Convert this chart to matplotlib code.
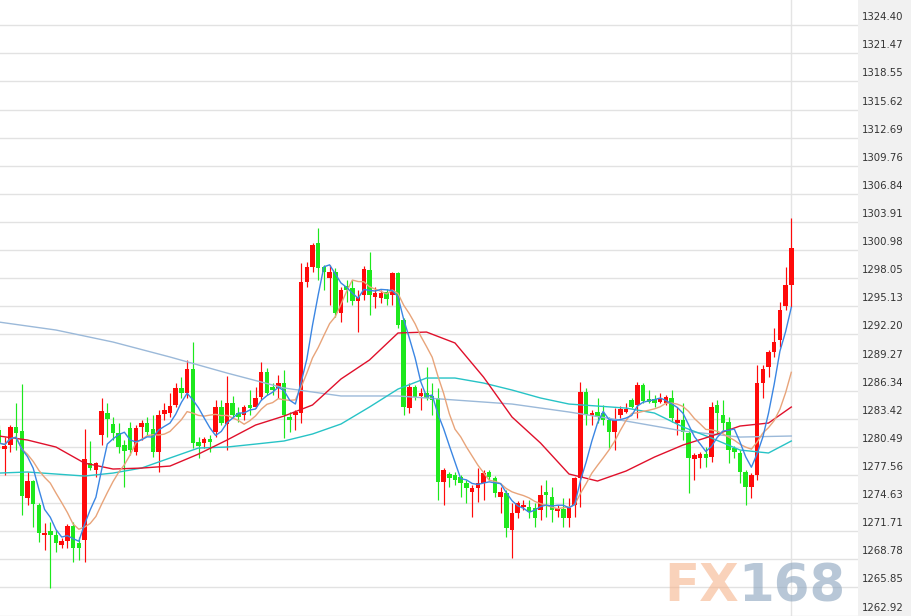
import matplotlib
matplotlib.use("Agg")
import matplotlib.pyplot as plt
import matplotlib.transforms as mtrans
import numpy as np
import pandas as pd

# ---------------- data ----------------
opens = [1282.24, 1280.26, 1280.68, 1282.56, 1282.14, 1275.16, 1276.93, 1274.43, 1271.30, 1271.72,
         1271.30, 1270.26, 1270.68, 1272.24, 1270.47, 1270.78, 1278.80, 1278.07, 1281.72, 1284.01,
         1282.87, 1281.93, 1280.68, 1282.45, 1279.95, 1282.56, 1282.97, 1282.35, 1279.95, 1283.91,
         1284.01, 1284.85, 1286.62, 1286.10, 1288.60, 1280.99, 1280.89, 1281.30, 1282.03, 1284.64,
         1282.87, 1285.06, 1284.01, 1283.81, 1284.85, 1284.64, 1285.68, 1288.28, 1286.72, 1286.62,
         1287.14, 1283.60, 1283.81, 1284.01, 1297.66, 1299.22, 1301.72, 1299.22, 1298.08, 1298.70,
         1294.43, 1297.24, 1297.04, 1295.68, 1296.31, 1298.91, 1296.10, 1296.00, 1296.62, 1296.31,
         1298.60, 1293.70, 1284.53, 1286.72, 1285.79, 1286.10, 1285.79, 1285.58, 1276.83, 1277.66,
         1277.55, 1277.35, 1276.72, 1275.78, 1276.20, 1276.72, 1277.87, 1277.24, 1275.26, 1275.68,
         1271.82, 1273.60, 1274.22, 1274.22, 1274.12, 1273.91, 1275.78, 1275.26, 1273.80, 1274.01,
         1273.08, 1274.43, 1277.24, 1286.20, 1283.81, 1284.12, 1284.01, 1283.28, 1282.03, 1283.81,
         1284.12, 1285.37, 1284.85, 1286.93, 1285.47, 1285.47, 1285.16, 1285.06, 1285.58, 1282.97,
         1283.28, 1281.93, 1279.22, 1279.33, 1279.74, 1279.43, 1284.85, 1283.81, 1283.08, 1280.37,
         1279.85, 1277.87, 1276.30, 1277.55, 1287.14, 1288.81, 1290.37, 1291.62, 1295.16, 1297.35]
highs = [1282.76, 1281.51, 1282.76, 1285.06, 1287.03, 1277.87, 1277.03, 1274.64, 1272.55, 1272.66,
         1271.82, 1270.99, 1272.45, 1272.66, 1271.10, 1282.35, 1281.10, 1278.91, 1285.58, 1285.06,
         1283.60, 1282.97, 1281.20, 1283.08, 1282.76, 1283.28, 1283.60, 1283.81, 1284.33, 1285.06,
         1286.10, 1287.14, 1287.76, 1289.54, 1291.41, 1281.51, 1281.51, 1281.72, 1285.37, 1285.37,
         1287.87, 1285.79, 1284.64, 1284.85, 1286.41, 1286.72, 1289.33, 1288.70, 1287.14, 1287.97,
         1288.49, 1284.12, 1284.33, 1299.64, 1299.74, 1301.72, 1303.29, 1299.43, 1299.43, 1299.12,
         1297.14, 1297.87, 1297.87, 1296.83, 1299.33, 1300.79, 1297.14, 1296.83, 1296.93, 1298.70,
         1298.70, 1293.91, 1287.14, 1286.93, 1286.62, 1288.81, 1287.14, 1286.62, 1278.28, 1277.87,
         1277.87, 1277.55, 1277.03, 1276.51, 1278.28, 1278.07, 1278.07, 1277.45, 1276.30, 1275.99,
         1274.64, 1274.85, 1274.95, 1274.95, 1274.64, 1276.51, 1277.03, 1276.30, 1274.43, 1275.16,
         1275.16, 1277.35, 1287.24, 1286.62, 1284.33, 1285.58, 1284.85, 1283.60, 1284.53, 1284.74,
         1285.06, 1285.58, 1287.24, 1287.14, 1286.41, 1285.89, 1286.10, 1285.89, 1286.41, 1284.64,
         1285.06, 1282.24, 1279.85, 1279.95, 1280.47, 1285.16, 1285.37, 1285.37, 1283.60, 1280.58,
         1280.16, 1278.07, 1277.76, 1289.02, 1289.02, 1290.58, 1292.87, 1295.58, 1299.22, 1304.33]
lows = [1280.37, 1277.55, 1279.95, 1280.16, 1273.39, 1274.43, 1272.14, 1270.57, 1269.74, 1265.78,
        1269.53, 1269.95, 1269.95, 1268.49, 1268.70, 1268.49, 1278.07, 1277.35, 1280.68, 1281.51,
        1281.20, 1279.85, 1276.30, 1279.64, 1279.64, 1281.20, 1281.72, 1279.43, 1277.87, 1283.28,
        1283.60, 1284.64, 1285.58, 1285.58, 1280.37, 1279.33, 1280.37, 1279.95, 1281.51, 1282.76,
        1280.16, 1283.49, 1283.08, 1283.28, 1283.81, 1284.53, 1285.37, 1285.89, 1285.89, 1285.58,
        1281.41, 1282.03, 1282.24, 1282.97, 1297.14, 1298.70, 1297.87, 1296.83, 1295.27, 1294.01,
        1293.49, 1295.58, 1295.27, 1292.45, 1295.79, 1294.22, 1294.95, 1295.47, 1295.27, 1295.27,
        1292.87, 1283.81, 1284.01, 1285.37, 1284.33, 1285.37, 1283.81, 1274.95, 1274.43, 1276.30,
        1276.51, 1275.26, 1274.64, 1273.18, 1274.74, 1274.95, 1277.03, 1275.26, 1273.60, 1271.10,
        1268.91, 1273.08, 1273.91, 1273.08, 1272.14, 1272.87, 1273.18, 1272.66, 1273.18, 1272.14,
        1272.14, 1273.18, 1274.22, 1282.76, 1282.76, 1282.97, 1282.76, 1280.37, 1280.16, 1283.49,
        1284.01, 1284.53, 1283.49, 1285.06, 1285.06, 1284.64, 1285.06, 1284.85, 1283.08, 1281.72,
        1281.20, 1275.68, 1277.03, 1278.28, 1278.38, 1278.91, 1281.93, 1282.24, 1278.80, 1279.33,
        1276.72, 1274.43, 1275.16, 1277.03, 1285.58, 1287.76, 1289.85, 1290.89, 1294.74, 1295.06]
closes = [1280.89, 1280.58, 1282.56, 1281.93, 1275.37, 1276.93, 1274.53, 1271.51, 1271.51, 1271.30,
          1270.47, 1270.68, 1272.24, 1269.95, 1269.95, 1279.22, 1278.28, 1278.80, 1284.22, 1283.39,
          1281.93, 1280.47, 1280.06, 1280.16, 1282.45, 1282.97, 1282.03, 1279.95, 1283.81, 1284.33,
          1284.74, 1286.62, 1286.10, 1288.60, 1280.89, 1280.58, 1281.30, 1280.99, 1284.64, 1282.97,
          1285.06, 1283.81, 1283.60, 1284.64, 1284.53, 1285.58, 1288.28, 1286.10, 1286.41, 1287.14,
          1283.81, 1283.28, 1284.12, 1297.66, 1299.22, 1301.52, 1299.12, 1298.70, 1298.70, 1294.43,
          1296.83, 1296.83, 1295.68, 1296.10, 1299.01, 1296.31, 1296.52, 1296.52, 1295.89, 1298.60,
          1293.18, 1284.64, 1286.72, 1285.68, 1286.10, 1285.58, 1285.37, 1276.83, 1278.07, 1277.24,
          1277.03, 1276.72, 1276.20, 1276.20, 1276.72, 1277.76, 1277.35, 1275.68, 1275.78, 1272.03,
          1273.60, 1274.64, 1274.43, 1273.70, 1273.08, 1275.47, 1275.47, 1273.91, 1274.12, 1273.08,
          1274.12, 1277.24, 1286.20, 1283.81, 1284.01, 1283.60, 1283.28, 1282.03, 1283.28, 1284.43,
          1284.43, 1284.64, 1286.93, 1285.26, 1285.16, 1285.06, 1285.47, 1285.68, 1283.49, 1283.28,
          1282.03, 1279.33, 1279.64, 1279.74, 1279.33, 1284.64, 1284.01, 1282.97, 1280.16, 1279.95,
          1277.87, 1276.30, 1277.55, 1287.14, 1288.60, 1290.37, 1291.41, 1294.74, 1297.35, 1301.21]

ma30_at = [0, 5, 10, 15, 20, 25, 30, 35, 40, 45, 50, 55, 60, 65, 70, 75, 80, 85, 90, 95,
           100, 105, 110, 115, 120, 125, 130, 135, 139]
ma30_val = [1281.62, 1281.20, 1280.47, 1278.80, 1278.18, 1278.28, 1278.49, 1279.74, 1281.20, 1282.76,
            1283.70, 1284.85, 1287.56, 1289.54, 1292.35, 1292.45, 1291.31, 1287.76, 1283.60, 1280.89,
            1277.66, 1276.93, 1277.97, 1279.43, 1280.68, 1281.62, 1282.66, 1282.97, 1284.64]
ma60_at = ma30_at
ma60_val = [1277.76, 1277.87, 1277.66, 1277.45, 1277.76, 1278.28, 1279.33, 1280.37, 1280.47, 1280.78,
            1281.10, 1281.83, 1282.87, 1284.64, 1286.51, 1287.66, 1287.66, 1287.14, 1286.41, 1285.58,
            1284.95, 1284.74, 1284.53, 1284.01, 1282.56, 1281.41, 1280.16, 1279.85, 1281.10]
ma120_at = [0, 10, 20, 30, 40, 50, 60, 70, 80, 90, 100, 110, 120, 130, 139]
ma120_val = [1293.49, 1292.66, 1291.41, 1289.85, 1288.18, 1286.62, 1285.79, 1285.79, 1285.37, 1284.95,
             1284.12, 1283.18, 1282.14, 1281.51, 1281.62]

tick_values = [1262.92, 1265.85, 1268.78, 1271.71, 1274.63, 1277.56, 1280.49, 1283.42, 1286.34,
               1289.27, 1292.20, 1295.13, 1298.05, 1300.98, 1303.91, 1306.84, 1309.76, 1312.69,
               1315.62, 1318.55, 1321.47, 1324.40]

# ---------------- figure ----------------
W, H, DPI = 911, 616, 100
fig = plt.figure(figsize=(W / DPI, H / DPI), dpi=DPI)
fig.patch.set_facecolor("white")
# right label panel
fig.patches.append(plt.Rectangle((858 / W, 0), 1 - 858 / W, 1, transform=fig.transFigure,
                                 facecolor="#f1f1f1", edgecolor="none", zorder=0))

ax = fig.add_axes([0, 0, 858 / W, 1])
ax.set_facecolor("white")
ax.set_zorder(1)

o = np.array(opens); h = np.array(highs); l = np.array(lows); c = np.array(closes)
x = np.arange(len(c))
RED, GREEN = "#ff0a0a", "#1de81d"
cols = np.where(c >= o, RED, GREEN)

ax.vlines(x, l, h, colors=cols, linewidth=0.85, zorder=2)
body_lo = np.minimum(o, c)
body_h = np.maximum(np.abs(c - o), 0.12)
ax.bar(x, body_h, bottom=body_lo, width=0.8, color=cols, linewidth=0, zorder=3)

s = pd.Series(closes)
ma5 = s.rolling(5, min_periods=1).mean()
ma10 = s.rolling(10, min_periods=1).mean()

ax.plot(ma120_at, ma120_val, color="#9bb9d9", lw=1.0, zorder=4)
ax.plot(ma60_at, ma60_val, color="#27c3c6", lw=1.0, zorder=4)
ax.plot(ma30_at, ma30_val, color="#e0102b", lw=1.0, zorder=4)
ax.plot(x, ma10, color="#e8a47a", lw=1.0, zorder=5)
ax.plot(x, ma5, color="#3b86e3", lw=1.0, zorder=6)

# last-candle vertical marker
ax.axvline(x[-1], color="#e4e4e4", lw=1.0, zorder=1)

# grid + limits
ax.set_xlim((0 + 1) / 5.7, (858 + 1) / 5.7)
ax.set_ylim(1262.87, 1327.04)
ax.set_yticks(tick_values)
ax.set_xticks([])
ax.grid(axis="y", color="#e2e2e2", lw=1.0, zorder=0)
ax.tick_params(axis="y", length=0, labelleft=False, labelright=False)
for sp in ax.spines.values():
    sp.set_visible(False)

trans = mtrans.blended_transform_factory(ax.transAxes, ax.transData)
trans = mtrans.offset_copy(trans, fig=fig, x=4, y=8, units="dots")
for t in tick_values:
    ax.text(1.0, t, f"{t:.2f}", transform=trans, ha="left", va="center",
            fontsize=7.3, color="#333333", family="DejaVu Sans", clip_on=False)

# watermark
fig.text(664 / W, 1 - 601 / H, "FX", fontsize=37, fontweight="bold", color="#f6b48c",
         alpha=0.6, ha="left", va="baseline", family="DejaVu Sans", zorder=10)
fig.text(738 / W, 1 - 601 / H, "168", fontsize=37, fontweight="bold", color="#8aa3bd",
         alpha=0.6, ha="left", va="baseline", family="DejaVu Sans", zorder=10)

fig.savefig("out.png", dpi=DPI)
